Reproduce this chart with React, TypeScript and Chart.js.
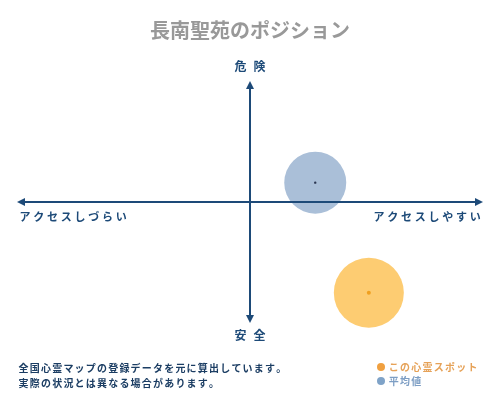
import React, { useEffect, useRef } from "react";
import { Chart, registerables } from "chart.js";

Chart.register(...registerables);

// ---- data ----
const seriesNames = ["この心霊スポット", "平均値"];
const xValues = [2.55, 1.4]; // access: negative = hard, positive = easy
const yValues = [-3.75, 0.8]; // danger: positive = dangerous, negative = safe
const bubbleSizes = [35, 31];
const axisMin = -5;
const axisMax = 5;
const chartTitle = "長南聖苑のポジション";
const topLabel = "危険";
const bottomLabel = "安全";
const leftLabel = "アクセスしづらい";
const rightLabel = "アクセスしやすい";
const notes = [
  "全国心霊マップの登録データを元に算出しています。",
  "実際の状況とは異なる場合があります。",
];

// ---- styles ----
const FONT = '"Noto Sans CJK JP", "Noto Sans", sans-serif';
const AXIS_COLOR = "#1d4a78";
const NOTE_COLOR = "#1b3d63";
const bubbleFill = ["#fdcc72", "#aabfd8"];
const centerFill = ["#f0a020", "#2a3550"];
const legendDot = ["#f0a040", "#7fa3c8"];
const legendText = ["#e6a258", "#7d9ec4"];

function spacedText(
  ctx: CanvasRenderingContext2D,
  text: string,
  x: number,
  y: number,
  step: number,
  align: "left" | "center" | "right"
) {
  const chars = Array.from(text);
  const total = step * chars.length;
  let start = x;
  if (align === "center") start = x - total / 2;
  if (align === "right") start = x - total;
  ctx.textAlign = "center";
  chars.forEach((c, i) => ctx.fillText(c, start + step * i + step / 2, y));
}

const quadrantPlugin = {
  id: "quadrant",
  afterDatasetsDraw(chart: any) {
    const ctx: CanvasRenderingContext2D = chart.ctx;
    const xs = chart.scales.x;
    const ys = chart.scales.y;
    const left = xs.getPixelForValue(axisMin);
    const right = xs.getPixelForValue(axisMax);
    const top = ys.getPixelForValue(axisMax);
    const bottom = ys.getPixelForValue(axisMin);
    const cx = xs.getPixelForValue(0);
    const cy = ys.getPixelForValue(0);
    ctx.save();
    ctx.strokeStyle = AXIS_COLOR;
    ctx.fillStyle = AXIS_COLOR;
    ctx.lineWidth = 2;
    const ah = 8;
    const aw = 4;
    // horizontal
    ctx.beginPath();
    ctx.moveTo(left + ah - 1, cy);
    ctx.lineTo(right - ah + 1, cy);
    ctx.stroke();
    // vertical
    ctx.beginPath();
    ctx.moveTo(cx, top + ah - 1);
    ctx.lineTo(cx, bottom - ah + 1);
    ctx.stroke();
    // arrow heads
    const tri = (pts: number[][]) => {
      ctx.beginPath();
      ctx.moveTo(pts[0][0], pts[0][1]);
      ctx.lineTo(pts[1][0], pts[1][1]);
      ctx.lineTo(pts[2][0], pts[2][1]);
      ctx.closePath();
      ctx.fill();
    };
    tri([[left, cy], [left + ah, cy - aw], [left + ah, cy + aw]]);
    tri([[right, cy], [right - ah, cy - aw], [right - ah, cy + aw]]);
    tri([[cx, top], [cx - aw, top + ah], [cx + aw, top + ah]]);
    tri([[cx, bottom], [cx - aw, bottom - ah], [cx + aw, bottom - ah]]);

    // axis labels
    ctx.textBaseline = "middle";
    ctx.font = `bold 12px ${FONT}`;
    spacedText(ctx, topLabel, cx, top - 15, 19, "center");
    spacedText(ctx, bottomLabel, cx, bottom + 12, 19, "center");
    ctx.font = `bold 11px ${FONT}`;
    spacedText(ctx, leftLabel, left + 1, cy + 15, 13.75, "left");
    spacedText(ctx, rightLabel, right - 1, cy + 15, 13.75, "right");

    // notes
    ctx.fillStyle = NOTE_COLOR;
    ctx.font = `bold 10px ${FONT}`;
    notes.forEach((n, i) => spacedText(ctx, n, 18, 368 + i * 15, 11.2, "left"));

    // legend
    seriesNames.forEach((name, i) => {
      const ly = 367 + i * 14;
      ctx.fillStyle = legendDot[i];
      ctx.beginPath();
      ctx.arc(381, ly, 4, 0, Math.PI * 2);
      ctx.fill();
      ctx.fillStyle = legendText[i];
      ctx.font = `bold 10px ${FONT}`;
      spacedText(ctx, name, 388, ly, 11.25, "left");
    });
    ctx.restore();
  },
};

export default function App() {
  const ref = useRef<HTMLCanvasElement | null>(null);
  useEffect(() => {
    if (!ref.current) return;
    const chart = new Chart(ref.current, {
      type: "bubble",
      data: {
        datasets: [
          ...seriesNames.map((name, i) => ({
            label: name,
            data: [{ x: xValues[i], y: yValues[i], r: bubbleSizes[i] }],
            backgroundColor: bubbleFill[i],
            borderWidth: 0,
            order: 2,
          })),
          ...seriesNames.map((name, i) => ({
            type: "scatter" as const,
            label: name + " center",
            data: [{ x: xValues[i], y: yValues[i] }],
            backgroundColor: centerFill[i],
            borderWidth: 0,
            pointRadius: i === 0 ? 2 : 1.2,
            order: 1,
          })),
        ],
      } as any,
      options: {
        animation: false,
        responsive: false,
        events: [],
        clip: false as any,
        layout: {
          autoPadding: false,
          padding: { left: 17, right: 17, top: 0, bottom: 77 },
        },
        scales: {
          x: { type: "linear", min: axisMin, max: axisMax, display: false },
          y: { type: "linear", min: axisMin, max: axisMax, display: false },
        },
        plugins: {
          legend: { display: false },
          tooltip: { enabled: false },
          title: {
            display: true,
            text: chartTitle,
            color: "#999999",
            font: { family: FONT, size: 20, weight: "bold" },
            padding: { top: 18, bottom: 39 },
          },
        },
      } as any,
      plugins: [quadrantPlugin],
    });
    return () => chart.destroy();
  }, []);
  return (
    <div style={{ position: "fixed", left: 0, top: 0, width: 500, height: 400, background: "#fff" }}>
      <canvas ref={ref} width={500} height={400} style={{ width: 500, height: 400 }} />
    </div>
  );
}
